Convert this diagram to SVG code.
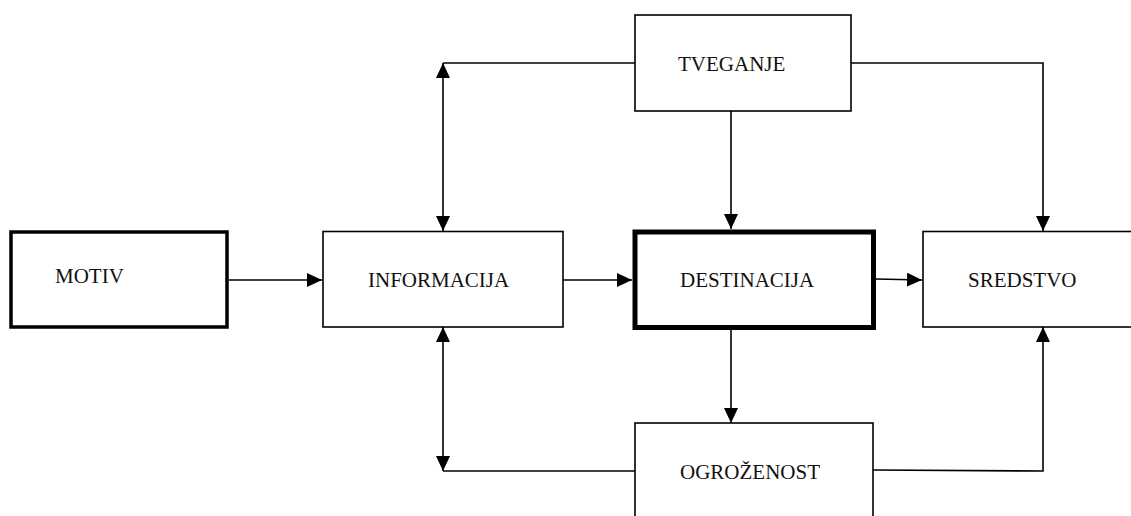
<svg xmlns="http://www.w3.org/2000/svg" width="1131" height="516" viewBox="0 0 1131 516">
<defs>
<marker id="ah" markerUnits="userSpaceOnUse" markerWidth="15" markerHeight="14" refX="15" refY="7" orient="auto-start-reverse">
<path d="M0,0 L15,7 L0,14 Z" fill="#000"/>
</marker>
<style>
.box{fill:#fff;stroke:#000;stroke-width:1.6}
.lbl{font-family:"Liberation Serif","Times New Roman",serif;font-size:21px;fill:#111}
.c{fill:none;stroke:#000;stroke-width:1.6}
</style>
</defs>
<rect width="1131" height="516" fill="#fff"/>
<g id="connectors">
<line class="c" x1="229" y1="280" x2="322" y2="280" marker-end="url(#ah)"/>
<line class="c" x1="563" y1="280" x2="632" y2="280" marker-end="url(#ah)"/>
<line class="c" x1="876" y1="279" x2="922" y2="280" marker-end="url(#ah)"/>
<line class="c" x1="635" y1="63" x2="443" y2="63"/>
<line class="c" x1="443" y1="63" x2="443" y2="231" marker-start="url(#ah)" marker-end="url(#ah)"/>
<line class="c" x1="731" y1="111" x2="731" y2="229" marker-end="url(#ah)"/>
<polyline class="c" points="851,63 1043,63 1043,231" marker-end="url(#ah)"/>
<line class="c" x1="731" y1="330" x2="731" y2="423" marker-end="url(#ah)"/>
<line class="c" x1="443" y1="327" x2="443" y2="471" marker-start="url(#ah)" marker-end="url(#ah)"/>
<line class="c" x1="443" y1="471" x2="635" y2="471"/>
<polyline class="c" points="873,470 1043,471 1043,327" marker-end="url(#ah)"/>
</g>
<g id="motiv">
<rect x="11" y="232" width="216" height="95" fill="#fff" stroke="#000" stroke-width="3.5"/>
<text class="lbl" x="55" y="283">MOTIV</text>
</g>
<g id="informacija">
<rect class="box" x="323" y="231.5" width="240" height="95.5"/>
<text class="lbl" x="368" y="287">INFORMACIJA</text>
</g>
<g id="destinacija">
<rect x="635" y="232" width="238.5" height="95.5" fill="#fff" stroke="#000" stroke-width="5"/>
<text class="lbl" x="680" y="287">DESTINACIJA</text>
</g>
<g id="sredstvo">
<rect class="box" x="923" y="231.5" width="230" height="95.5"/>
<text class="lbl" x="968" y="287">SREDSTVO</text>
</g>
<g id="tveganje">
<rect class="box" x="635" y="15" width="216" height="96"/>
<text class="lbl" x="678" y="71">TVEGANJE</text>
</g>
<g id="ogrozenost">
<rect class="box" x="635" y="423" width="238" height="120"/>
<text class="lbl" x="680" y="479">OGROŽENOST</text>
</g>
</svg>
